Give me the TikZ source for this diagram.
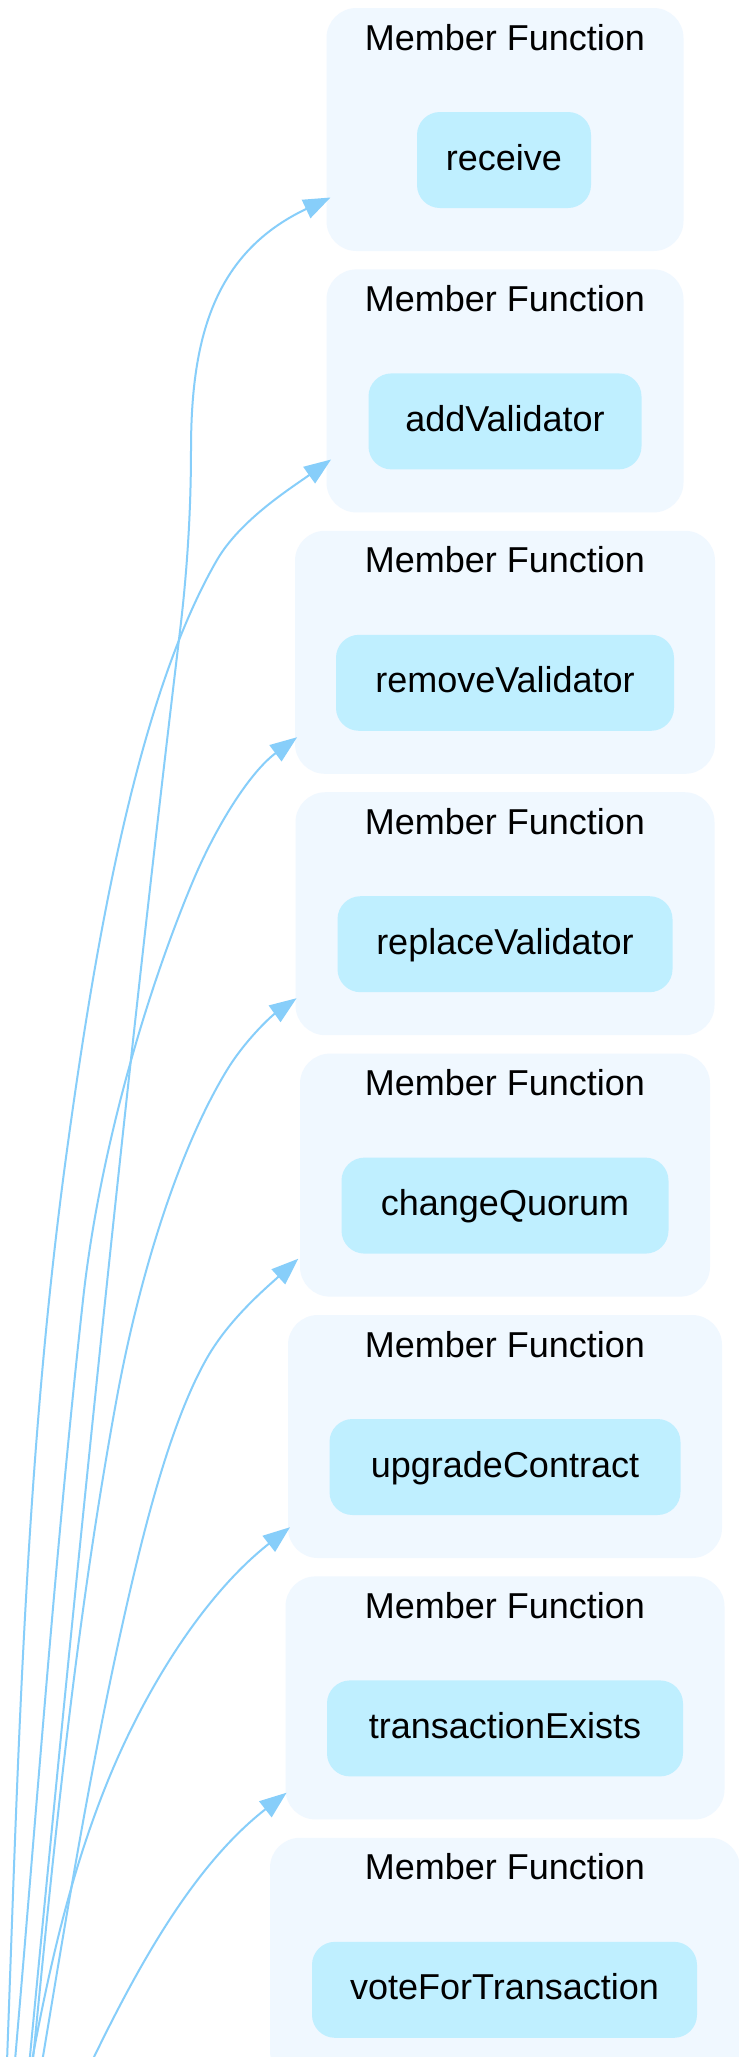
\documentclass[tikz,border=0pt]{standalone}
\usepackage{fontspec}
\setmainfont{Liberation Sans}
\usetikzlibrary{arrows.meta}
\definecolor{clusterbg}{HTML}{F0F8FF}
\definecolor{funcbg}{HTML}{BFEFFF}
\definecolor{edgeblue}{HTML}{87CEFA}
\tikzset{
fncluster/.style={rectangle,rounded corners=30pt,fill=clusterbg,minimum height=243pt,inner sep=0pt},
fnbox/.style={rectangle,rounded corners=23pt,fill=funcbg,minimum height=96pt,inner sep=0pt,font=\fontsize{36}{43}\selectfont,text height=26pt,text depth=6pt},
fntitle/.style={anchor=base,inner sep=0pt,font=\fontsize{36}{43}\selectfont},
callarrow/.style={draw=edgeblue,line width=2pt,-{Triangle[length=27pt,width=20pt]}}
}
\begin{document}
\begin{tikzpicture}[x=1pt,y=-1pt]
\useasboundingbox (0,0) rectangle (739,2057);
\fill[white] (0,0) rectangle (739,2057);
\clip (0,0) rectangle (739,2057);
\node[fncluster,minimum width=357pt] (c1) at (505,129.5) {};
\node[fncluster,minimum width=357pt] (c2) at (505,390.9) {};
\node[fncluster,minimum width=420pt] (c3) at (505,652.3) {};
\node[fncluster,minimum width=419pt] (c4) at (505,913.7) {};
\node[fncluster,minimum width=410pt] (c5) at (505,1175.1) {};
\node[fncluster,minimum width=434pt] (c6) at (505,1436.5) {};
\node[fncluster,minimum width=439pt] (c7) at (505,1697.9) {};
\node[fncluster,minimum width=470pt] (c8) at (505,1959.3) {};
\node[fntitle] (t1) at (505,50) {Member Function};
\node[fntitle] (t2) at (505,311.4) {Member Function};
\node[fntitle] (t3) at (505,572.8) {Member Function};
\node[fntitle] (t4) at (505,834.2) {Member Function};
\node[fntitle] (t5) at (505,1095.6) {Member Function};
\node[fntitle] (t6) at (505,1357) {Member Function};
\node[fntitle] (t7) at (505,1618.4) {Member Function};
\node[fntitle] (t8) at (505,1879.8) {Member Function};
\node[fnbox,minimum width=174pt] (receive) at (504,160) {receive};
\node[fnbox,minimum width=273pt] (addValidator) at (505,421.4) {addValidator};
\node[fnbox,minimum width=338pt] (removeValidator) at (505,682.8) {removeValidator};
\node[fnbox,minimum width=335pt] (replaceValidator) at (505,944.2) {replaceValidator};
\node[fnbox,minimum width=327pt] (changeQuorum) at (505,1205.6) {changeQuorum};
\node[fnbox,minimum width=351pt] (upgradeContract) at (505,1467) {upgradeContract};
\node[fnbox,minimum width=356pt] (transactionExists) at (505,1728.4) {transactionExists};
\node[fnbox,minimum width=385pt] (voteForTransaction) at (504.5,1989.8) {voteForTransaction};
\coordinate (s1) at (22,2140);
\coordinate (s2) at (4,2140);
\coordinate (s3) at (8,2140);
\coordinate (s4) at (25,2140);
\coordinate (s5) at (29,2140);
\coordinate (s6) at (18,2140);
\coordinate (s7) at (55,2140);
\draw[callarrow] (s1) .. controls (69.5,1640) and (120,1131) .. (180,631) .. controls (187.2,571) and (191,510) .. (191,450) .. controls (191,340) and (213,253) .. ([xshift=4.2pt,yshift=53.7pt]c1.south west);
\draw[callarrow] (s2) .. controls (17.2,1810) and (21.8,1480) .. (67,1150) .. controls (94.4,950) and (136,700) .. (217,560) .. controls (240.2,520) and (290.5,488.4) .. ([xshift=4.8pt,yshift=53.1pt]c2.south west);
\draw[callarrow] (s3) .. controls (33.2,1860) and (52.2,1580) .. (83,1300) .. controls (99.5,1150) and (146.8,991) .. (193,881) .. controls (216.1,826) and (249.8,772.3) .. ([xshift=2.3pt,yshift=36.8pt]c3.south west);
\draw[callarrow] (s4) .. controls (50,1890) and (71,1647) .. (117,1397) .. controls (139.1,1277) and (178.2,1150) .. (227,1070) .. controls (244.7,1041) and (270.1,1017) .. ([xshift=1.3pt,yshift=37.2pt]c4.south west);
\draw[callarrow] (s5) .. controls (59.6,1960) and (86,1784) .. (127,1604) .. controls (147.5,1514) and (172.8,1418) .. (207,1358) .. controls (229.3,1318.9) and (266,1288) .. ([xshift=-1.5pt,yshift=38.1pt]c5.south west);
\draw[callarrow] (s6) .. controls (38.4,2020) and (60.1,1903) .. (103,1793) .. controls (142.9,1690.5) and (204.6,1594.1) .. ([xshift=2.2pt,yshift=31pt]c6.south west);
\draw[callarrow] (s7) .. controls (113.5,2012.9) and (177.4,1877.9) .. ([xshift=1.3pt,yshift=26.9pt]c7.south west);
\end{tikzpicture}
\end{document}
